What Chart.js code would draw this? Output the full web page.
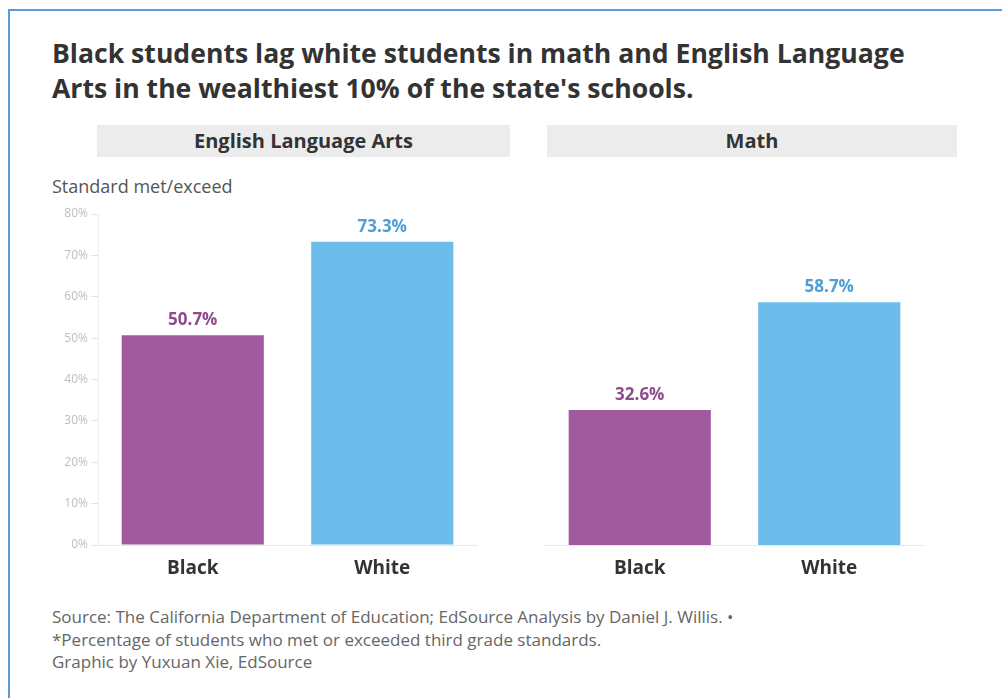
<!DOCTYPE html>
<html>
<head>
<meta charset="utf-8">
<script src="https://cdn.jsdelivr.net/npm/chart.js@4"></script>
<style>
  html, body { margin:0; padding:0; background:#fff; }
  body { width:1002px; height:698px; position:relative; overflow:hidden; font-family: "Open Sans", "Noto Sans", sans-serif; }
  .frame { position:absolute; left:8px; top:9px; width:1000px; height:700px; border-top:2px solid #5b9bd5; border-left:2px solid #5b9bd5; }
  .title { position:absolute; left:52px; top:36px; font-size:26.6px; line-height:35px; font-weight:700; color:#333; white-space:nowrap; }
  .hdr { position:absolute; top:125px; height:32px; line-height:32px; background:#ececec; text-align:center; font-weight:700; font-size:20px; color:#333; }
  .ylab { position:absolute; left:52px; top:175px; font-size:18px; color:#555; line-height:22px; }
  .foot { position:absolute; left:52px; top:606px; font-size:17px; line-height:22.5px; color:#666; white-space:nowrap; }
  canvas { position:absolute; left:0; top:0; }
</style>
</head>
<body>
<div class="frame"></div>
<div class="title">Black students lag white students in math and English Language<br>Arts in the wealthiest 10% of the state's schools.</div>
<div class="hdr" style="left:97px;width:413px;">English Language Arts</div>
<div class="hdr" style="left:547px;width:410px;">Math</div>
<div class="ylab">Standard met/exceed</div>
<div class="foot">Source: The California Department of Education; EdSource Analysis by Daniel J. Willis. •<br>*Percentage of students who met or exceeded third grade standards.<br>Graphic by Yuxuan Xie, EdSource</div>
<canvas id="c1" width="1002" height="698"></canvas>
<canvas id="c2" width="1002" height="698"></canvas>
<script>
const categories = ["Black", "White"];
const elaValues = [50.7, 73.3];
const mathValues = [32.6, 58.7];
const yTicks = [0, 10, 20, 30, 40, 50, 60, 70, 80];
const barColors = ["#a25a9f", "#6cbcec"];
const labelColors = ["#8e4a8d", "#4f9fd6"];
const FONT = "'Open Sans', 'Noto Sans', sans-serif";

const valueLabels = {
  id: 'valueLabels',
  afterDatasetsDraw(chart) {
    const ctx = chart.ctx;
    const meta = chart.getDatasetMeta(0);
    const data = chart.data.datasets[0].data;
    ctx.save();
    ctx.font = "700 17px " + FONT;
    ctx.textAlign = 'center';
    ctx.textBaseline = 'middle';
    meta.data.forEach((bar, i) => {
      ctx.fillStyle = labelColors[i];
      ctx.fillText(data[i].toFixed(1) + '%', bar.x, bar.y - 15);
    });
    ctx.restore();
  }
};

function makeChart(id, values, padL, padR, showY) {
  return new Chart(document.getElementById(id), {
    type: 'bar',
    data: {
      labels: categories,
      datasets: [{
        data: values,
        backgroundColor: barColors,
        barPercentage: 0.75,
        categoryPercentage: 1.0
      }]
    },
    options: {
      responsive: false,
      animation: false,
      events: [],
      layout: { padding: { left: padL, right: padR, top: 214, bottom: 113 } },
      plugins: { legend: { display: false }, tooltip: { enabled: false } },
      scales: {
        x: {
          grid: { display: false, drawTicks: false },
          border: { display: true, color: '#e8e8e8', width: 1 },
          ticks: { padding: 12, color: '#333', font: { family: FONT, size: 19, weight: '700' } },
          afterFit(s) { s.height = 40; }
        },
        y: {
          display: showY,
          min: 0, max: 80,
          afterBuildTicks(s) { s.ticks = yTicks.map(v => ({ value: v })); },
          grid: { drawOnChartArea: false, drawTicks: true, tickLength: 7, color: '#e4e4e4' },
          border: { display: true, color: '#eeeeee' },
          ticks: { padding: 3, color: '#bdbdbd', font: { family: FONT, size: 12 }, callback: v => v + '%' },
          afterFit(s) { s.width = showY ? 50 : 0; }
        }
      }
    },
    plugins: [valueLabels]
  });
}

makeChart('c1', elaValues, 48, 1002 - 477, true);
makeChart('c2', mathValues, 545, 1002 - 924, false);
</script>
</body>
</html>
